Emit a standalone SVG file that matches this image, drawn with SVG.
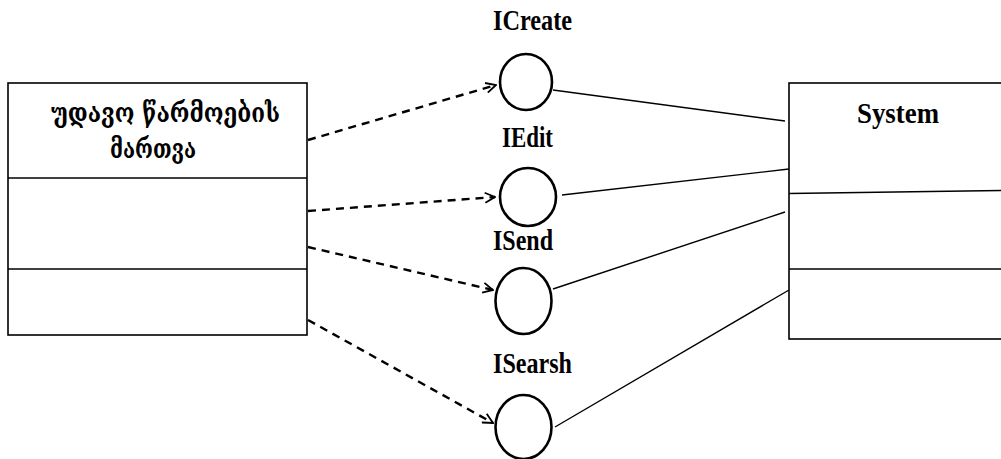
<svg xmlns="http://www.w3.org/2000/svg" width="1001" height="459" viewBox="0 0 1001 459">
<style>
.box{fill:#fff;stroke:#000;stroke-width:1.6}
.div{stroke:#000;stroke-width:1.6;fill:none}
.iface{fill:#fff;stroke:#000;stroke-width:2.6}
.lbl{font-family:"Liberation Serif","Times New Roman",serif;font-weight:bold;font-size:30px;fill:#000}
.geo{font-family:"DejaVu Serif","DejaVu Sans",sans-serif;font-weight:bold;font-size:27px;fill:#000}
.dep{stroke:#000;stroke-width:2.4;stroke-dasharray:8 6;fill:none}
.assoc{stroke:#000;stroke-width:1.4;fill:none}
</style>
<defs>
<marker id="open" viewBox="0 0 12 12" refX="11" refY="6" markerWidth="12" markerHeight="12" markerUnits="userSpaceOnUse" orient="auto">
<path d="M1,1 L11,6 L1,11" fill="none" stroke="#000" stroke-width="1.8"/>
</marker>
</defs>
<rect width="1001" height="459" fill="#fff"/>
<g id="connectors">
<line class="dep" x1="308" y1="140" x2="496" y2="85" marker-end="url(#open)"/>
<line class="dep" x1="308" y1="211" x2="495" y2="197" marker-end="url(#open)"/>
<line class="dep" x1="308" y1="247" x2="493" y2="290" marker-end="url(#open)"/>
<line class="dep" x1="308" y1="320" x2="493" y2="423" marker-end="url(#open)"/>
<line class="assoc" x1="553" y1="90" x2="785" y2="121"/>
<line class="assoc" x1="562" y1="195" x2="789" y2="169"/>
<line class="assoc" x1="553" y1="289" x2="785" y2="212"/>
<line class="assoc" x1="555" y1="427" x2="789" y2="290"/>
</g>
<g id="node-left">
<rect class="box" x="8" y="83" width="299" height="252"/>
<line class="div" x1="8" y1="178" x2="307" y2="178"/>
<line class="div" x1="8" y1="269" x2="307" y2="269"/>
<text class="geo" x="51" y="122" textLength="229" lengthAdjust="spacingAndGlyphs">უდავო წარმოების</text>
<text class="geo" x="110" y="158" textLength="86" lengthAdjust="spacingAndGlyphs">მართვა</text>
</g>
<g id="node-system">
<rect class="box" x="789" y="83" width="230" height="256"/>
<line class="div" x1="789" y1="193.5" x2="1001" y2="190.5"/>
<line class="div" x1="789" y1="269" x2="1001" y2="269"/>
<text class="lbl" x="857" y="123" textLength="82" lengthAdjust="spacingAndGlyphs">System</text>
</g>
<g id="iface-icreate">
<ellipse class="iface" cx="526" cy="82" rx="26" ry="28"/>
<text class="lbl" x="493" y="30" textLength="79" lengthAdjust="spacingAndGlyphs">ICreate</text>
</g>
<g id="iface-iedit">
<ellipse class="iface" cx="528" cy="197" rx="28" ry="29"/>
<text class="lbl" x="502" y="147" textLength="51" lengthAdjust="spacingAndGlyphs">IEdit</text>
</g>
<g id="iface-isend">
<ellipse class="iface" cx="523.5" cy="301" rx="28" ry="33"/>
<text class="lbl" x="493" y="250" textLength="60" lengthAdjust="spacingAndGlyphs">ISend</text>
</g>
<g id="iface-isearsh">
<ellipse class="iface" cx="523.5" cy="427" rx="28" ry="32"/>
<text class="lbl" x="493" y="373" textLength="79" lengthAdjust="spacingAndGlyphs">ISearsh</text>
</g>
</svg>
